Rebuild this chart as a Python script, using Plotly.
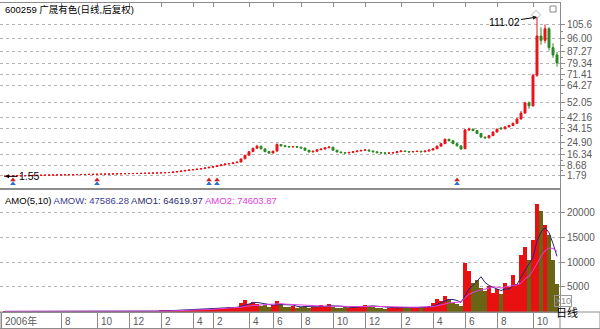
import plotly.graph_objects as go

# ---------------- data ----------------
opens = [1.60, 1.62, 1.75, 1.85, 1.92, 1.95, 2.00, 2.12, 2.22, 2.28, 2.32, 2.36, 2.42, 2.46, 2.52, 2.58, 2.62, 2.66, 2.72, 2.78,
         2.82, 2.86, 2.92, 2.96, 3.02, 3.06, 3.12, 3.16, 3.26, 3.32, 3.36, 3.42, 3.46, 3.52, 3.56, 3.62, 3.66, 3.72, 3.82, 3.92,
         4.02, 4.12, 4.22, 4.52, 4.82, 5.22, 5.62, 5.95, 6.25, 6.55, 6.95, 7.35, 7.85, 8.25, 8.85, 9.45, 10.1, 10.3, 10.9, 11.4,
         13.6, 16.1, 18.6, 20.9, 22.2, 20.4, 18.6, 17.6, 18.9, 23.4, 22.6, 22.0, 21.8, 22.0, 21.6, 21.0, 19.5, 18.3, 18.8, 19.8,
         20.3, 21.2, 21.6, 19.5, 18.3, 17.8, 17.6, 18.0, 18.5, 19.0, 19.4, 19.7, 19.0, 18.4, 17.8, 17.6, 17.5, 17.6, 17.8, 18.5,
         19.0, 18.6, 18.3, 18.6, 18.8, 18.4, 18.9, 19.6, 20.5, 22.3, 24.0, 27.0, 26.0, 24.0, 22.5, 20.5, 33.4, 34.0, 33.0, 31.0,
         28.5, 28.0, 29.5, 32.0, 34.8, 34.2, 35.5, 36.5, 38.0, 41.0, 45.0, 52.0, 50.0, 71.0, 98.0, 95.0, 103.0, 90.0, 85.0]
highs = [1.66, 1.78, 1.88, 1.93, 1.98, 2.04, 2.14, 2.24, 2.30, 2.34, 2.40, 2.44, 2.50, 2.54, 2.60, 2.64, 2.70, 2.74, 2.80, 2.84,
         2.90, 2.94, 3.00, 3.04, 3.10, 3.14, 3.20, 3.30, 3.35, 3.40, 3.45, 3.50, 3.55, 3.60, 3.66, 3.70, 3.76, 3.86, 3.96, 4.06,
         4.16, 4.28, 4.60, 4.90, 5.30, 5.70, 6.00, 6.30, 6.60, 7.00, 7.40, 7.90, 8.30, 8.90, 9.50, 10.1, 10.5, 11.0, 11.5, 13.8,
         16.3, 18.9, 21.3, 23.2, 22.6, 20.8, 18.9, 19.2, 24.2, 23.8, 22.9, 22.4, 22.4, 22.2, 21.8, 21.2, 19.7, 19.0, 20.0, 20.5,
         21.4, 22.0, 21.8, 19.7, 18.5, 18.0, 18.2, 18.7, 19.2, 19.6, 20.0, 19.9, 19.2, 18.6, 18.0, 17.8, 17.8, 18.0, 18.7, 19.2,
         19.1, 18.8, 18.8, 19.0, 18.9, 19.1, 19.8, 20.7, 22.6, 24.3, 27.6, 27.4, 26.3, 24.2, 22.7, 33.8, 35.0, 34.3, 33.2, 31.2,
         28.8, 29.8, 32.4, 34.3, 35.2, 35.8, 36.9, 38.4, 41.5, 46.5, 52.8, 53.0, 72.0, 111.02, 104.0, 106.0, 104.0, 93.0, 87.0]
lows = [1.55, 1.60, 1.72, 1.82, 1.88, 1.92, 1.98, 2.08, 2.18, 2.22, 2.28, 2.32, 2.38, 2.42, 2.48, 2.52, 2.58, 2.62, 2.68, 2.72,
        2.78, 2.82, 2.88, 2.92, 2.98, 3.02, 3.08, 3.12, 3.22, 3.28, 3.32, 3.38, 3.42, 3.48, 3.52, 3.58, 3.62, 3.68, 3.78, 3.88,
        3.98, 4.06, 4.18, 4.45, 4.76, 5.15, 5.55, 5.85, 6.15, 6.45, 6.85, 7.25, 7.70, 8.10, 8.70, 9.30, 9.90, 10.1, 10.7, 11.2,
        13.4, 15.8, 18.2, 20.4, 20.0, 18.2, 17.2, 17.3, 18.7, 22.2, 21.7, 21.5, 21.6, 21.3, 20.8, 19.3, 18.1, 18.1, 18.6, 19.6,
        20.1, 21.0, 19.3, 18.1, 17.6, 17.4, 17.4, 17.8, 18.3, 18.8, 19.2, 18.8, 18.2, 17.6, 17.4, 17.3, 17.3, 17.4, 17.7, 18.3,
        18.4, 18.1, 18.2, 18.4, 18.2, 18.3, 18.8, 19.5, 20.4, 22.1, 23.8, 25.6, 23.7, 22.2, 19.8, 20.3, 32.6, 32.6, 30.7, 28.2,
        27.6, 27.8, 29.3, 31.8, 33.8, 34.0, 35.2, 36.2, 37.8, 40.6, 44.6, 48.0, 49.5, 70.0, 92.0, 93.0, 88.0, 83.0, 77.0]
closes = [1.62, 1.75, 1.85, 1.90, 1.95, 2.00, 2.10, 2.20, 2.25, 2.30, 2.35, 2.40, 2.45, 2.50, 2.55, 2.60, 2.65, 2.70, 2.75, 2.80,
          2.85, 2.90, 2.95, 3.00, 3.05, 3.10, 3.15, 3.25, 3.30, 3.35, 3.40, 3.45, 3.50, 3.55, 3.60, 3.65, 3.70, 3.80, 3.90, 4.00,
          4.10, 4.20, 4.50, 4.80, 5.20, 5.60, 5.90, 6.20, 6.50, 6.90, 7.30, 7.80, 8.20, 8.80, 9.40, 10.0, 10.3, 10.8, 11.3, 13.5,
          16.0, 18.5, 20.8, 22.3, 20.5, 18.5, 17.5, 18.8, 23.5, 22.5, 22.0, 21.8, 22.0, 21.6, 21.0, 19.5, 18.3, 18.8, 19.8, 20.3,
          21.2, 21.7, 19.5, 18.3, 17.8, 17.6, 18.0, 18.5, 19.0, 19.4, 19.7, 19.0, 18.4, 17.8, 17.6, 17.5, 17.6, 17.8, 18.5, 19.0,
          18.6, 18.3, 18.6, 18.8, 18.4, 18.9, 19.6, 20.5, 22.3, 24.0, 27.0, 26.0, 24.0, 22.5, 20.3, 33.5, 34.0, 33.0, 31.0, 28.5,
          28.0, 29.5, 32.0, 34.0, 34.2, 35.5, 36.5, 38.0, 41.0, 45.0, 52.0, 50.0, 71.0, 98.0, 95.0, 103.0, 90.0, 85.0, 79.5]
volumes = [30, 20, 15, 10, 10, 20, 15, 10, 10, 15, 10, 10, 10, 15, 20, 10, 10, 15, 20, 15,
           10, 10, 20, 15, 10, 40, 30, 50, 40, 30, 60, 50, 40, 60, 80, 60, 50, 80, 100, 150,
           200, 250, 180, 300, 250, 350, 400, 300, 500, 450, 600, 550, 700, 650, 800, 700, 900, 850, 1000, 1800,
           2400, 1600, 2000, 1500, 1200, 1400, 1000, 1300, 2100, 1500, 1000, 900, 1100, 800, 900, 1200, 800, 1000, 900, 1300,
           1100, 1500, 1000, 800, 700, 900, 800, 1000, 1200, 1000, 1400, 1200, 900, 800, 700, 600, 700, 800, 900, 1000,
           800, 900, 700, 800, 1000, 900, 1200, 1800, 2500, 2200, 3200, 2500, 1800, 1500, 1200, 9800, 8200, 5800, 6500, 4800,
           4200, 5200, 3800, 4500, 3600, 5800, 4900, 7400, 5600, 11500, 13200, 10500, 14500, 21800, 20500, 17500, 15500, 10500, 5500]
amo1 = [25, 22, 19, 17, 15, 15, 14, 13, 13, 14, 12, 11, 11, 12, 13, 13, 13, 14, 15, 14,
        14, 14, 15, 14, 13, 19, 23, 29, 35, 38, 42, 46, 46, 48, 58, 58, 58, 66, 74, 88,
        116, 156, 176, 216, 236, 266, 296, 320, 360, 400, 450, 480, 560, 590, 660, 680, 750, 800, 850, 1050,
        1340, 1530, 1760, 1860, 1740, 1540, 1420, 1280, 1400, 1460, 1380, 1360, 1320, 1060, 940, 1000, 960, 940, 960, 1040,
        1020, 1160, 1160, 1140, 1080, 1000, 840, 840, 920, 980, 1080, 1160, 1140, 1060, 1000, 840, 740, 720, 740, 800,
        840, 840, 820, 820, 840, 860, 920, 1080, 1440, 1740, 2140, 2440, 2440, 2240, 1840, 3340, 4540, 5300, 6300, 7060,
        5900, 5300, 4900, 4520, 4260, 4580, 4560, 5240, 5460, 6980, 8420, 9640, 11000, 14300, 16100, 17000, 16000, 13800, 11200]
amo2 = [25, 23, 21, 19, 17, 17, 16, 15, 14, 14, 13, 12, 12, 12, 12, 12, 12, 12, 13, 13,
        13, 13, 14, 14, 14, 17, 19, 23, 25, 27, 31, 34, 37, 42, 49, 51, 52, 55, 62, 73,
        86, 106, 120, 145, 162, 193, 224, 250, 294, 330, 375, 400, 460, 500, 560, 590, 660, 720, 760, 880,
        1050, 1140, 1240, 1310, 1380, 1440, 1460, 1490, 1560, 1600, 1500, 1450, 1380, 1320, 1250, 1220, 1190, 1120, 1090, 1070,
        1080, 1090, 1100, 1040, 1010, 1000, 1000, 1010, 1010, 990, 1050, 1080, 1070, 1040, 1010, 980, 920, 880, 850, 830,
        820, 830, 860, 870, 890, 880, 920, 990, 1150, 1280, 1520, 1730, 1850, 1930, 1960, 2850, 3510, 3820, 4190, 4350,
        4570, 4830, 4960, 4960, 4760, 4980, 5060, 5270, 5380, 5730, 6650, 7170, 8300, 9800, 11200, 12300, 12900, 12800, 12200]

price_ticks = [105.6, 96.00, 87.27, 79.34, 71.41, 64.27, 52.05, 42.16, 34.15, 24.90, 16.34, 8.68, 1.79]
price_tick_text = ["105.6", "96.00", "87.27", "79.34", "71.41", "64.27", "52.05", "42.16", "34.15", "24.90", "16.34", "8.68", "1.79"]
vol_ticks = [5000, 10000, 15000, 20000]
vol_tick_text = ["5000", "10000", "15000", "20000"]
month_idx = [-1, 14, 23, 31, 39, 47, 52, 61, 67, 74, 82, 90, 99, 107, 115, 123, 132]
month_labels = ["2006年", "8", "10", "12", "2", "4", "2", "4", "6", "8", "10", "12", "2", "4", "6", "8", "10"]
event_idx = [2, 23, 51, 53, 113]
low_idx, low_val = 0, 1.55
peak_idx, peak_val = 133, 111.02

title_text = "600259 广晟有色(日线,后复权)"
amo_name = "AMO(5,10)"
amow_text = "AMOW: 47586.28"
amo1_text = "AMO1: 64619.97"
amo2_text = "AMO2: 74603.87"

# ---------------- styling ----------------
UP = "#e8141a"
DN = "#2a8a22"
VUP = "#e81010"
VDN = "#6b6414"
NAVY = "#26267a"
MAG = "#e040e0"
AX = "#8c8c8c"
GRID = "#b4b4b4"
TXT = "#5a5a5a"
FONT = "Liberation Sans, Noto Sans CJK SC, sans-serif"

xs = list(range(len(closes)))
vol_colors = [VUP if c >= o else VDN for o, c in zip(opens, closes)]

fig = go.Figure()
fig.add_trace(go.Candlestick(
    x=xs, open=opens, high=highs, low=lows, close=closes,
    xaxis="x", yaxis="y", whiskerwidth=0,
    increasing=dict(line=dict(color=UP, width=1), fillcolor=UP),
    decreasing=dict(line=dict(color=DN, width=1), fillcolor=DN),
    showlegend=False, hoverinfo="none"))
# event markers under the price panel
fig.add_trace(go.Scatter(x=event_idx, y=[-0.9] * len(event_idx), mode="markers", xaxis="x", yaxis="y",
                         marker=dict(symbol="triangle-up", size=5, color="#d42020"), showlegend=False, hoverinfo="skip"))
fig.add_trace(go.Scatter(x=event_idx, y=[-3.6] * len(event_idx), mode="markers", xaxis="x", yaxis="y",
                         marker=dict(symbol="triangle-up", size=5, color="#2a6fd4"), showlegend=False, hoverinfo="skip"))

fig.add_trace(go.Bar(x=xs, y=volumes, marker=dict(color=vol_colors, line=dict(width=0)), width=0.9,
                     xaxis="x2", yaxis="y2", showlegend=False, hoverinfo="skip"))
fig.add_trace(go.Scatter(x=xs, y=amo1, mode="lines", line=dict(color=NAVY, width=1),
                         xaxis="x2", yaxis="y2", showlegend=False, hoverinfo="skip"))
fig.add_trace(go.Scatter(x=xs, y=amo2, mode="lines", line=dict(color=MAG, width=1),
                         xaxis="x2", yaxis="y2", showlegend=False, hoverinfo="skip"))

xr = [-1.25, 138.75]
minor_price = [(a + b) / 2 for a, b in zip(price_ticks[:-1], price_ticks[1:])]

fig.update_layout(
    width=600, height=329,
    margin=dict(l=0, r=40, t=3, b=17),
    paper_bgcolor="white", plot_bgcolor="white",
    font=dict(family=FONT, size=10, color=TXT),
    hovermode=False, bargap=0,
    xaxis=dict(domain=[0, 1], range=xr, anchor="y", side="top", showline=True, linecolor=AX, mirror=True,
               ticks="inside", ticklen=4, tickcolor=AX, tickvals=month_idx, showticklabels=False,
               showgrid=False, zeroline=False, rangeslider=dict(visible=False), fixedrange=True),
    xaxis2=dict(domain=[0, 1], range=xr, anchor="y2", showline=True, linecolor=AX, mirror=True,
                ticks="outside", ticklen=16, tickcolor=AX, tickvals=month_idx, showticklabels=False,
                showgrid=False, zeroline=False, fixedrange=True),
    yaxis=dict(domain=[0.401, 1], range=[-6.53, 120.69], anchor="x", side="right",
               tickvals=price_ticks, ticktext=price_tick_text, tickfont=dict(size=10, color=TXT),
               ticks="outside", ticklen=4, tickcolor=AX, showline=True, linecolor=AX, mirror=True,
               showgrid=True, gridcolor=GRID, griddash="dot", gridwidth=1, zeroline=False,
               minor=dict(tickvals=minor_price, ticks="outside", ticklen=2, tickcolor=AX, showgrid=False),
               fixedrange=True),
    yaxis2=dict(domain=[0, 0.395], range=[-100, 24670], anchor="x2", side="right",
                tickvals=vol_ticks, ticktext=vol_tick_text, tickfont=dict(size=10, color=TXT),
                ticks="outside", ticklen=4, tickcolor=AX, showline=True, linecolor=AX, mirror=True,
                showgrid=True, gridcolor=GRID, griddash="dot", gridwidth=1, zeroline=False,
                fixedrange=True),
)

H = 309.0  # plot height in px


def py(px):
    return 1 - (px - 3) / H


annotations = [
    dict(x=0.005, y=py(10), xref="paper", yref="paper", text=title_text, showarrow=False,
         xanchor="left", yanchor="middle", font=dict(size=9.5, color="#000000")),
    dict(x=0.005, y=py(200), xref="paper", yref="paper", showarrow=False, xanchor="left", yanchor="middle",
         text=(f"<span style='color:#000000'>{amo_name}</span> "
               f"<span style='color:#3c3c90'>{amow_text}</span> "
               f"<span style='color:#2a2a6a'>{amo1_text}</span> "
               f"<span style='color:{MAG}'>{amo2_text}</span>"),
         font=dict(size=9.5)),
    dict(x=low_idx, y=low_val, xref="x", yref="y", text=f"{low_val:.2f}", showarrow=True,
         arrowhead=2, arrowsize=0.8, arrowwidth=1, arrowcolor="#000000", ax=24, ay=0,
         font=dict(size=10.5, color="#000000")),
    dict(x=peak_idx, y=peak_val, xref="x", yref="y", text=f"{peak_val:.2f}", showarrow=True,
         arrowhead=2, arrowsize=0.8, arrowwidth=1, arrowcolor="#000000", ax=-33, ay=5,
         font=dict(size=10.5, color="#000000")),
    dict(x=543 / 560, y=py(8), xref="paper", yref="paper", text="◇", showarrow=False,
         font=dict(size=10, color="#777777")),
    dict(x=571.5 / 560, y=py(307), xref="paper", yref="paper", text="X10", showarrow=False,
         font=dict(size=9, color="#888888"), bordercolor="#999999", borderwidth=1, borderpad=0),
    dict(x=580 / 560, y=py(321), xref="paper", yref="paper", text="日线", showarrow=False,
         font=dict(size=11, color="#000000")),
]
for xi, lab in zip(month_idx, month_labels):
    annotations.append(dict(x=xi, y=py(321), xref="x2", yref="paper", text=lab, showarrow=False,
                            xanchor="left", yanchor="middle", xshift=2, font=dict(size=10, color=TXT)))

shapes = [
    dict(type="rect", xref="paper", yref="paper", x0=0, x1=600 / 560, y0=py(312), y1=py(328.5),
         line=dict(color=AX, width=1)),
    dict(type="line", xref="paper", yref="paper", x0=1, x1=1, y0=py(312), y1=py(328.5),
         line=dict(color=AX, width=1)),
    dict(type="rect", xref="paper", yref="paper", x0=550 / 560, x1=556 / 560, y0=py(12), y1=py(6),
         line=dict(color="#888888", width=1)),
]
fig.update_layout(annotations=annotations, shapes=shapes)

fig.write_html("out.html")
